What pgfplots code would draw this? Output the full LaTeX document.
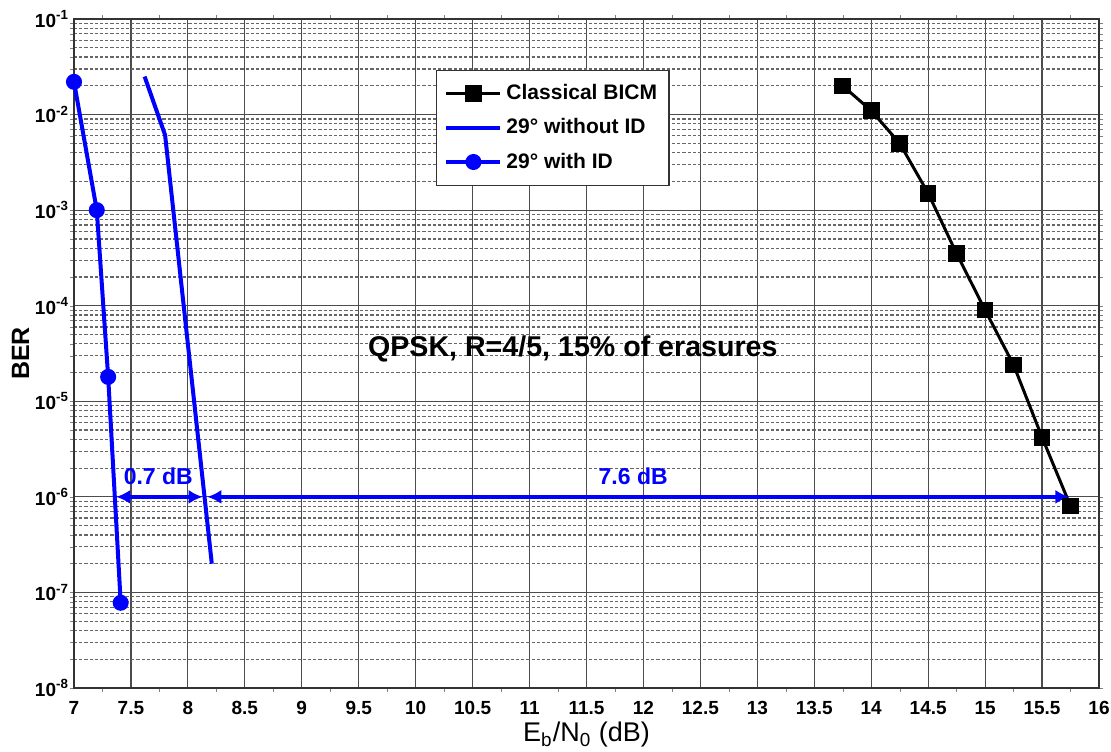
\documentclass[border=0pt]{standalone}
\usepackage{fontspec}
\setmainfont{Liberation Sans}
\usepackage{pgfplots}
\pgfplotsset{compat=1.18}
\usetikzlibrary{arrows.meta, calc}
\definecolor{berblue}{RGB}{0,0,255}

\begin{document}
\begin{tikzpicture}
\begin{semilogyaxis}[
  scale only axis,
  width=512.5pt, height=334.5pt,
  xmin=7, xmax=16, ymin=1e-8, ymax=1e-1,
  xtick={7,7.5,...,16},
  xticklabels={7,7.5,8,8.5,9,9.5,10,10.5,11,11.5,12,12.5,13,13.5,14,14.5,15,15.5,16},
  minor x tick num=1,
  ytick={1e-8,1e-7,1e-6,1e-5,1e-4,1e-3,1e-2,1e-1},
  yticklabels={10\textsuperscript{-8},10\textsuperscript{-7},10\textsuperscript{-6},10\textsuperscript{-5},10\textsuperscript{-4},10\textsuperscript{-3},10\textsuperscript{-2},10\textsuperscript{-1}},
  xticklabel style={font=\bfseries\fontsize{9.5}{11}\selectfont, yshift=-3pt},
  yticklabel style={font=\bfseries\fontsize{9.5}{11}\selectfont, xshift=1pt},
  /pgf/number format/assume math mode=true,
  xlabel={E\textsubscript{b}/N\textsubscript{0} (dB)},
  ylabel={\bfseries BER},
  xlabel style={font=\fontsize{13.5}{15}\selectfont},
  ylabel style={font=\bfseries\fontsize{12.5}{14}\selectfont},
  xlabel shift=-3pt,
  ylabel shift=-4pt,
  tick align=outside,
  major tick length=0pt,
  minor tick length=2pt,
  xmajorgrids, ymajorgrids, yminorgrids,
  major grid style={black!70, line width=0.6pt},
  minor grid style={black!60, dash pattern=on 1.6pt off 1pt, line width=0.6pt},
  axis line style={black!80, line width=0.8pt},
  legend style={at={(0.353,0.924)}, anchor=north west,
    font=\bfseries\fontsize{10.5}{12.5}\selectfont,
    draw=black!80, line width=0.6pt, inner xsep=4pt, inner ysep=5pt,
    row sep=4pt, cells={anchor=west}},
  legend image code/.code={
    \draw[#1] (0cm,0cm) -- (0.95cm,0cm);
    \draw[#1, mark repeat=2, mark phase=2] plot coordinates {(0cm,0cm) (0.475cm,0cm) (0.95cm,0cm)};
  },
  legend cell align=left,
]
\addplot[black, line width=1.5pt, mark=square*, mark size=3.4pt]
  coordinates {(13.75,0.02) (14.0,0.011) (14.25,0.005) (14.5,0.0015)
    (14.75,3.5e-4) (15.0,9e-5) (15.25,2.4e-5) (15.5,4.2e-6) (15.75,8e-7)};
\addlegendentry{Classical BICM}
\addplot[berblue, line width=2pt, mark=none]
  coordinates {(7.62,0.025) (7.8,6.1e-3) (8.21,2e-7)};
\addlegendentry{29° without ID}
\addplot[berblue, line width=2pt, mark=*, mark size=3pt]
  coordinates {(7.0,0.022) (7.2,1e-3) (7.3,1.8e-5) (7.41,7.8e-8)};
\addlegendentry{29° with ID}

\draw[berblue, line width=2pt, {Latex[length=7pt,width=7pt]}-{Latex[length=7pt,width=7pt]}]
  (axis cs:7.37,1e-6) -- (axis cs:8.13,1e-6);
\draw[berblue, line width=2pt, {Latex[length=7pt,width=7pt]}-{Latex[length=7pt,width=7pt]}]
  (axis cs:8.17,1e-6) -- (axis cs:15.74,1e-6);
\node[berblue, font=\bfseries\fontsize{11.5}{13}\selectfont] at (axis cs:7.74,1.65e-6) {0.7 dB};
\node[berblue, font=\bfseries\fontsize{11.5}{13}\selectfont] at (axis cs:11.91,1.65e-6) {7.6 dB};
\node[font=\bfseries\fontsize{14.3}{16}\selectfont] at (axis cs:11.38,3.5e-5) {QPSK, R=4/5, 15\% of erasures};

\coordinate (sw) at (rel axis cs:0,0);
\coordinate (ne) at (rel axis cs:1,1);
\end{semilogyaxis}
\pgfresetboundingbox
\path[use as bounding box] ($(sw)+(-37pt,-31.5pt)$) rectangle ($(ne)+(6pt,9.5pt)$);
\end{tikzpicture}
\end{document}
